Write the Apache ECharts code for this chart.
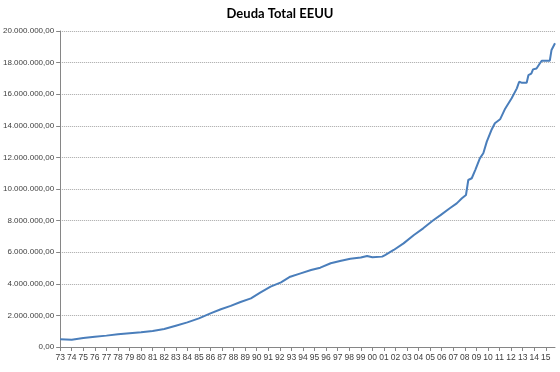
<!DOCTYPE html>
<html><head><meta charset="utf-8">
<script src="https://cdn.jsdelivr.net/npm/echarts@6/dist/echarts.min.js"></script>
<style>html,body{margin:0;padding:0;background:#fff}#c{width:560px;height:372px}</style>
</head><body><div id="c"></div>
<script>
const titleText = 'Deuda Total EEUU';
// time (fractional year) and debt readings
const years = [1973.0,1974.0,1975.0,1976.0,1977.0,1978.0,1979.0,1980.0,1981.0,1982.0,1983.0,1984.0,1985.0,1986.0,1986.9,1987.75,1988.6,1989.5,1990.3,1991.2,1992.1,1992.9,1993.8,1994.7,1995.5,1996.4,1997.2,1998.1,1999.0,1999.55,2000.0,2000.85,2001.1,2001.85,2002.7,2003.6,2004.4,2005.3,2005.9,2006.7,2007.3,2007.75,2008.1,2008.3,2008.6,2008.9,2009.3,2009.6,2009.9,2010.3,2010.6,2011.05,2011.5,2012.05,2012.5,2012.7,2012.9,2013.35,2013.5,2013.75,2013.9,2014.2,2014.5,2014.65,2015.35,2015.5,2015.8];
const debt = [490000,460000,570000,650000,720000,800000,870000,930000,1010000,1140000,1350000,1560000,1810000,2130000,2390000,2600000,2850000,3080000,3440000,3820000,4090000,4450000,4660000,4870000,5020000,5300000,5440000,5580000,5660000,5760000,5680000,5720000,5820000,6140000,6560000,7090000,7510000,8040000,8350000,8780000,9090000,9410000,9620000,10570000,10680000,11200000,11940000,12260000,13000000,13730000,14160000,14410000,15100000,15740000,16370000,16790000,16730000,16730000,17200000,17300000,17570000,17630000,17960000,18120000,18120000,18800000,19220000];
const yTicks = [0,2000000,4000000,6000000,8000000,10000000,12000000,14000000,16000000,18000000,20000000];
const xStart = 1973, xEnd = 2015.8;

function fmt(v){
  const s = Math.round(v).toString().replace(/\B(?=(\d{3})+(?!\d))/g,'.');
  return s + ',00';
}
const chart = echarts.init(document.getElementById('c'), null, {renderer:'canvas'});
chart.setOption({
  animation:false,
  title:{text:titleText,left:'center',top:2,textStyle:{fontFamily:'Lato',fontWeight:'bold',fontSize:13,color:'#000'}},
  grid:{left:58,right:5,top:31,bottom:25},
  xAxis:{type:'value',min:xStart,max:xEnd,interval:1,
    axisLine:{lineStyle:{color:'#868686',width:1}},
    axisTick:{show:true,length:4,lineStyle:{color:'#868686'}},
    splitLine:{show:false},
    axisLabel:{showMaxLabel:false,fontFamily:'Liberation Sans Narrow, Liberation Sans',fontSize:8.5,color:'#404040',margin:6,
      formatter:v=> (Math.abs(v-Math.round(v))<1e-6)? String(Math.round(v)%100).padStart(2,'0') : ''}},
  yAxis:{type:'value',min:yTicks[0],max:yTicks[yTicks.length-1],interval:yTicks[1]-yTicks[0],
    axisLine:{show:true,lineStyle:{color:'#868686'}},
    axisTick:{show:true,length:4,lineStyle:{color:'#868686'}},
    splitLine:{show:true,lineStyle:{color:'#a6a6a6',type:[1,1],width:1}},
    axisLabel:{fontFamily:'Liberation Sans Narrow, Liberation Sans',fontSize:8,color:'#404040',margin:6,formatter:fmt}},
  series:[{type:'line',data:years.map((t,i)=>[t,debt[i]]),showSymbol:false,
    lineStyle:{color:'#4a7ebb',width:2},itemStyle:{color:'#4a7ebb'}}]
});
</script></body></html>
